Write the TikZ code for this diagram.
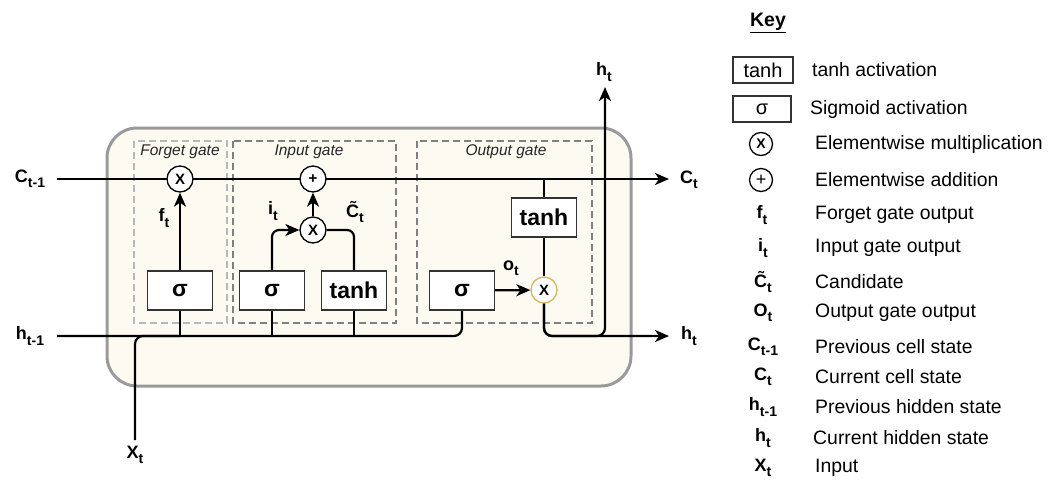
\documentclass[tikz,border=0pt]{standalone}
\usepackage{fontspec}
\setmainfont{Liberation Sans}
\usetikzlibrary{arrows.meta}
\newcommand{\lsub}[1]{\raisebox{-0.3em}{\fontsize{14}{14}\selectfont #1}}
\definecolor{cellfill}{HTML}{FDFBF1}
\definecolor{cellline}{HTML}{9A9A9A}
\definecolor{gold}{HTML}{D6B656}
\tikzset{
  wire/.style={line width=2.2pt, black},
  arr/.style={wire, -{Stealth[length=14pt,width=12pt,inset=4pt]}},
  actbox/.style={draw=black!80, fill=white, line width=1.3pt, minimum width=65pt,
    minimum height=39pt, inner sep=0pt, font=\fontsize{23}{23}\selectfont\bfseries},
  op/.style={circle, draw=black, fill=white, line width=1.3pt, minimum size=26pt,
    inner sep=0pt, font=\fontsize{15}{15}\selectfont\bfseries},
  gatebox/.style={dash pattern=on 7pt off 4pt, line width=1.8pt},
  gatelbl/.style={font=\fontsize{15.5}{15.5}\selectfont\itshape, text=black!85, inner sep=0pt},
  lbl/.style={font=\fontsize{18}{18}\selectfont\bfseries, inner sep=0pt},
  keytxt/.style={anchor=west, font=\fontsize{19.4}{19.4}\selectfont, inner sep=0pt},
  keybox/.style={draw=black!80, line width=1.2pt, minimum height=26pt, inner sep=0pt,
    font=\fontsize{20}{20}\selectfont},
  keyop/.style={circle, draw=black, line width=1.3pt, minimum size=23pt, inner sep=0pt},
}
\begin{document}
\begin{tikzpicture}[x=1pt,y=-1pt]
\useasboundingbox (0,0) rectangle (1059,480);

% LSTM cell body and gate regions
\draw[cellline, fill=cellfill, line width=3pt, rounded corners=30pt] (107,128) rectangle (631,386);
\draw[gatebox, draw=black!28] (134,141) rectangle (227,323);
\draw[gatebox, draw=black!50] (233,141) rectangle (396,323);
\draw[gatebox, draw=black!50] (417,141) rectangle (592,323);
\node[gatelbl] (lforget) at (180,152) {Forget gate};
\node[gatelbl] (linput) at (309,152) {Input gate};
\node[gatelbl] (loutput) at (506,152) {Output gate};

% inputs and outputs
\node[lbl] (cin) at (30,179) {C\lsub{t-1}};
\node[lbl] (hin) at (30,336) {h\lsub{t-1}};
\node[lbl] (xin) at (135,455) {X\lsub{t}};
\node[lbl] (cout) at (689,180) {C\lsub{t}};
\node[lbl] (hout) at (689,336) {h\lsub{t}};
\node[lbl] (htop) at (604,72) {h\lsub{t}};
\coordinate (cs) at (57,179);
\coordinate (hs) at (57,336);
\coordinate (xs) at (135,440);
\coordinate (cend) at (669,179);
\coordinate (hend) at (669,336);
\coordinate (hsplit) at (605,336);
\coordinate (htip) at (605,87);
\coordinate (otap) at (544,179);

% connectors drawn beneath the operators
\draw[wire] (cs) -- (180,179);
\draw[wire] (180,179) -- (313,179);
\draw[arr] (313,179) -- (cend);
\draw[wire, rounded corners=8pt] (hs) -| (462,310);
\draw[wire, rounded corners=8pt] (xs) |- (180,336);
\draw[wire] (otap) -- (544,200);
\draw[arr, rounded corners=8pt] (544,303) |- (hend);
\draw[arr, rounded corners=8pt] (544,303) |- (hsplit) -- (htip);

% operators and activations
\node[op] (fx) at (180,179) {X};
\node[op] (ip) at (313,179) {+};
\node[op] (ix) at (313,230) {X};
\node[op, draw=gold] (ox) at (544,290) {X};
\node[actbox] (fs) at (180,290.5) {σ};
\node[actbox] (is) at (272,290.5) {σ};
\node[actbox] (it) at (354,290.5) {tanh};
\node[actbox] (os) at (462,290.5) {σ};
\node[actbox] (ot) at (544,217.5) {tanh};

\draw[arr] (fs) -- (fx);
\draw[arr] (ix) -- (ip);
\draw[arr, rounded corners=7pt] (is.north) |- (ix.west);
\draw[wire, rounded corners=7pt] (it.north) |- (ix.east);
\draw[arr] (os) -- (ox);
\draw[wire] (ot) -- (ox);
\draw[wire] (fs.south) -- (fs.south |- hs);
\draw[wire] (is.south) -- (is.south |- hs);
\draw[wire] (it.south) -- (it.south |- hs);

\node[lbl] (lf) at (164,218) {f\lsub{t}};
\node[lbl] (li) at (273,211) {i\lsub{t}};
\node[lbl] (lc) at (355,212) {\~{C}\lsub{t}};
\node[lbl] (lo) at (511,268) {o\lsub{t}};

% key
\node[font=\fontsize{19.5}{19.5}\selectfont\bfseries] (key) at (768,23) {\underline{Key}};
\node[keybox, minimum width=60pt] (k1) at (763,70) {tanh};
\node[keybox, minimum width=58pt] (k2) at (762,109) {σ};
\node[keyop, font=\fontsize{14}{14}\selectfont\bfseries] (k3) at (761,144) {X};
\node[keyop, font=\fontsize{18}{18}\selectfont] (k4) at (761,180) {+};
\node[lbl] (k5) at (762,215) {f\lsub{t}};
\node[lbl] (k6) at (763,248) {i\lsub{t}};
\node[lbl] (k7) at (763,282) {\~{C}\lsub{t}};
\node[lbl] (k8) at (763,313) {O\lsub{t}};
\node[lbl] (k9) at (763,347) {C\lsub{t-1}};
\node[lbl] (k10) at (763,377) {C\lsub{t}};
\node[lbl] (k11) at (763,407) {h\lsub{t-1}};
\node[lbl] (k12) at (763,438) {h\lsub{t}};
\node[lbl] (k13) at (763,468) {X\lsub{t}};

\node[keytxt] at (812,70) {tanh activation};
\node[keytxt] at (810,109) {Sigmoid activation};
\node[keytxt] at (815,144) {Elementwise multiplication};
\node[keytxt] at (815,180) {Elementwise addition};
\node[keytxt] at (815,215) {Forget gate output};
\node[keytxt] at (815,248) {Input gate output};
\node[keytxt] at (815,282) {Candidate};
\node[keytxt] at (815,313) {Output gate output};
\node[keytxt] at (815,347) {Previous cell state};
\node[keytxt] at (815,377) {Current cell state};
\node[keytxt] at (815,407) {Previous hidden state};
\node[keytxt] at (813,438) {Current hidden state};
\node[keytxt] at (815,468) {Input};
\end{tikzpicture}
\end{document}
